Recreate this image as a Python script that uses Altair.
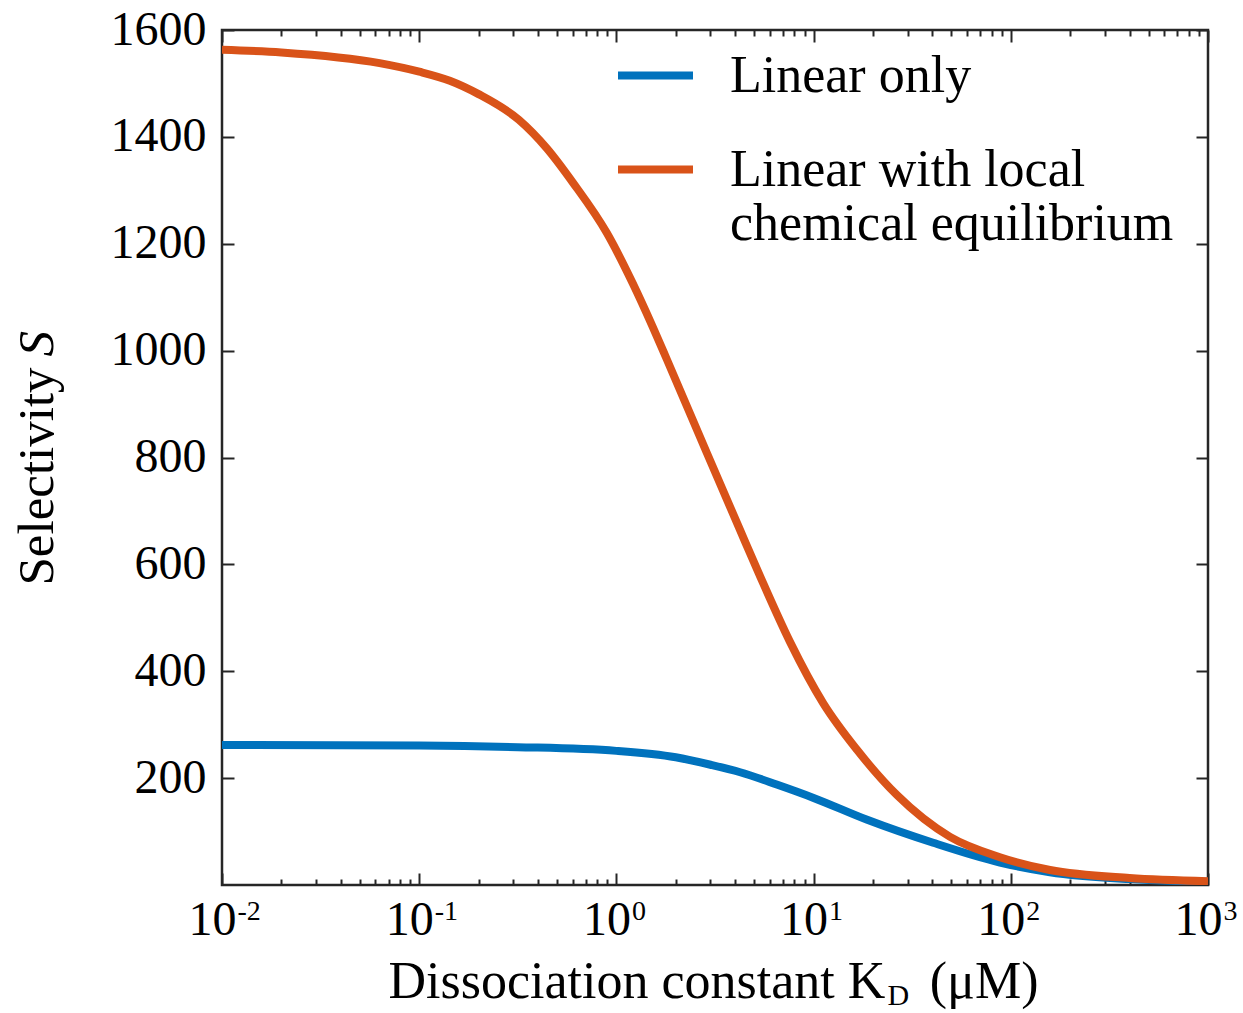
import altair as alt
import pandas as pd

# ---- data ----
series_names = ["Linear only", "Linear with local chemical equilibrium"]
series_colors = ["#0072BD", "#D95319"]

kd_linear = [0.01, 0.1, 0.316, 1, 2, 3, 4.24, 6.5, 10, 18.7, 40.4, 88.1, 158, 400, 1000]
s_linear = [262, 261, 258, 251, 239, 225, 211, 188, 163, 122, 79, 42, 24, 11, 6]

kd_equil = [0.01, 0.02, 0.063, 0.1, 0.143, 0.2, 0.32, 0.445, 0.603, 0.895, 1.21, 1.53,
            1.81, 2.88, 4.24, 5.35, 7.59, 11.2, 16.6, 26.5, 49.2, 88.1, 158, 400, 1000]
s_equil = [1563, 1558, 1538, 1522, 1505, 1480, 1432, 1378, 1314, 1220, 1126, 1044,
           982, 808, 664, 578, 455, 340, 253, 168, 90, 52, 28, 13, 7]

x_major = [0.01, 0.1, 1, 10, 100, 1000]
x_minor_mult = [2, 3, 4, 5, 6, 7, 8, 9]
y_ticks = [200, 400, 600, 800, 1000, 1200, 1400, 1600]

x_all = sorted(x_major + [m * v for v in x_major[:-1] for m in x_minor_mult])

df = pd.concat([
    pd.DataFrame({"KD": kd_linear, "S": s_linear, "series": series_names[0]}),
    pd.DataFrame({"KD": kd_equil, "S": s_equil, "series": series_names[1]}),
], ignore_index=True)

FONT = "Liberation Serif"
INK = "#262626"
W, H = 986, 855
TITLE_FS = 52

x_scale = alt.Scale(type="log", domain=[0.01, 1000], nice=False)
y_scale = alt.Scale(domain=[0, 1600], nice=False, zero=False)

major_test = "abs(log(datum.value)/LN10 - round(log(datum.value)/LN10)) < 0.001"

base = alt.Chart(df)

lines = base.mark_line(strokeWidth=8, interpolate="monotone", clip=True).encode(
    x=alt.X("KD:Q", scale=x_scale, axis=alt.Axis(
        orient="bottom", values=x_major, labelExpr="'10'", ticks=False, tickSize=0,
        domain=False, grid=False, labelFont=FONT, labelFontSize=48, labelColor="black",
        labelPadding=11, labelOffset=-10, labelFlush=False, labelOverlap=False,
        title="Dissociation constant K", titleFont=FONT, titleFontSize=TITLE_FS,
        titleFontWeight="normal", titleColor="black", titleAlign="left",
        titleBaseline="alphabetic", titleX=166, titleY=112)),
    y=alt.Y("S:Q", scale=y_scale, axis=alt.Axis(
        orient="left", values=y_ticks, format="d", ticks=False, tickSize=0, domain=False,
        grid=False, labelFont=FONT, labelFontSize=48, labelColor="black", labelPadding=16,
        labelFlush=False, labelOverlap=False,
        title="Selectivity", titleFont=FONT, titleFontSize=51, titleFontWeight="normal",
        titleColor="black", titleAngle=270, titleAlign="left", titleBaseline="alphabetic",
        titleX=-170, titleY=555)),
    color=alt.Color("series:N", scale=alt.Scale(domain=series_names, range=series_colors),
                    legend=alt.Legend(
                        orient="none", legendX=392, legendY=4, title=None, padding=0,
                        symbolType="stroke", symbolSize=5625, symbolStrokeWidth=8,
                        labelFont=FONT, labelFontSize=52, labelColor="black",
                        labelOffset=33, labelLimit=900, rowPadding=26,
                        labelExpr="datum.label == 'Linear with local chemical equilibrium' ? ['Linear with local', 'chemical equilibrium'] : datum.label")),
)

exponents = base.mark_line(opacity=0).encode(
    x=alt.X("KD:Q", scale=x_scale, axis=alt.Axis(
        orient="bottom", values=x_major, labelExpr="'' + round(log(datum.value)/LN10)",
        ticks=False, tickSize=0, domain=False, grid=False, labelFont=FONT,
        labelFontSize=28, labelColor="black", labelPadding=12, labelOffset=15,
        labelAlign="left", labelFlush=False, labelOverlap=False,
        title="D", titleFont=FONT, titleFontSize=30, titleFontWeight="normal",
        titleColor="black", titleAlign="left", titleBaseline="alphabetic",
        titleX=665, titleY=119)),
    y=alt.Y("S:Q", scale=y_scale, axis=alt.Axis(
        orient="left", labels=False, ticks=False, domain=False, grid=False,
        title="S", titleFont=FONT, titleFontSize=51, titleFontWeight="normal",
        titleFontStyle="italic", titleColor="black", titleAngle=270, titleAlign="left",
        titleBaseline="alphabetic", titleX=-170, titleY=326)),
)

tick_size = {"condition": {"test": major_test, "value": 12}, "value": 6}

ticks_a = base.mark_line(opacity=0).encode(
    x=alt.X("KD:Q", scale=x_scale, axis=alt.Axis(
        orient="top", offset=-H, values=x_all, labels=False, domain=False, grid=False,
        tickSize=tick_size, tickWidth=2, tickColor=INK,
        title="(μM)", titleFont=FONT, titleFontSize=TITLE_FS, titleFontWeight="normal",
        titleColor="black", titleAlign="right", titleBaseline="alphabetic",
        titleX=816, titleY=112)),
    y=alt.Y("S:Q", scale=y_scale, axis=alt.Axis(
        orient="right", offset=-W, values=y_ticks, labels=False, domain=False, grid=False,
        tickSize=12, tickWidth=2, tickColor=INK, title=None)),
)

ticks_b = base.mark_line(opacity=0).encode(
    x=alt.X("KD:Q", scale=x_scale, axis=alt.Axis(
        orient="bottom", offset=-H, values=x_all, labels=False, domain=False, grid=False,
        tickSize=tick_size, tickWidth=2, tickColor=INK, title=None)),
    y=alt.Y("S:Q", scale=y_scale, axis=alt.Axis(
        orient="left", offset=-W, values=y_ticks, labels=False, domain=False, grid=False,
        tickSize=12, tickWidth=2, tickColor=INK, title=None)),
)

chart = alt.layer(lines, exponents, ticks_a, ticks_b).resolve_axis(
    x="independent", y="independent"
).properties(
    width=W, height=H,
    autosize=alt.AutoSizeParams(type="none"),
    padding={"left": 222, "top": 30, "right": 35, "bottom": 128},
    background="white",
).configure_view(stroke=INK, strokeWidth=2.5)

chart.save("out.html", embed_options={"renderer": "svg", "actions": False})
